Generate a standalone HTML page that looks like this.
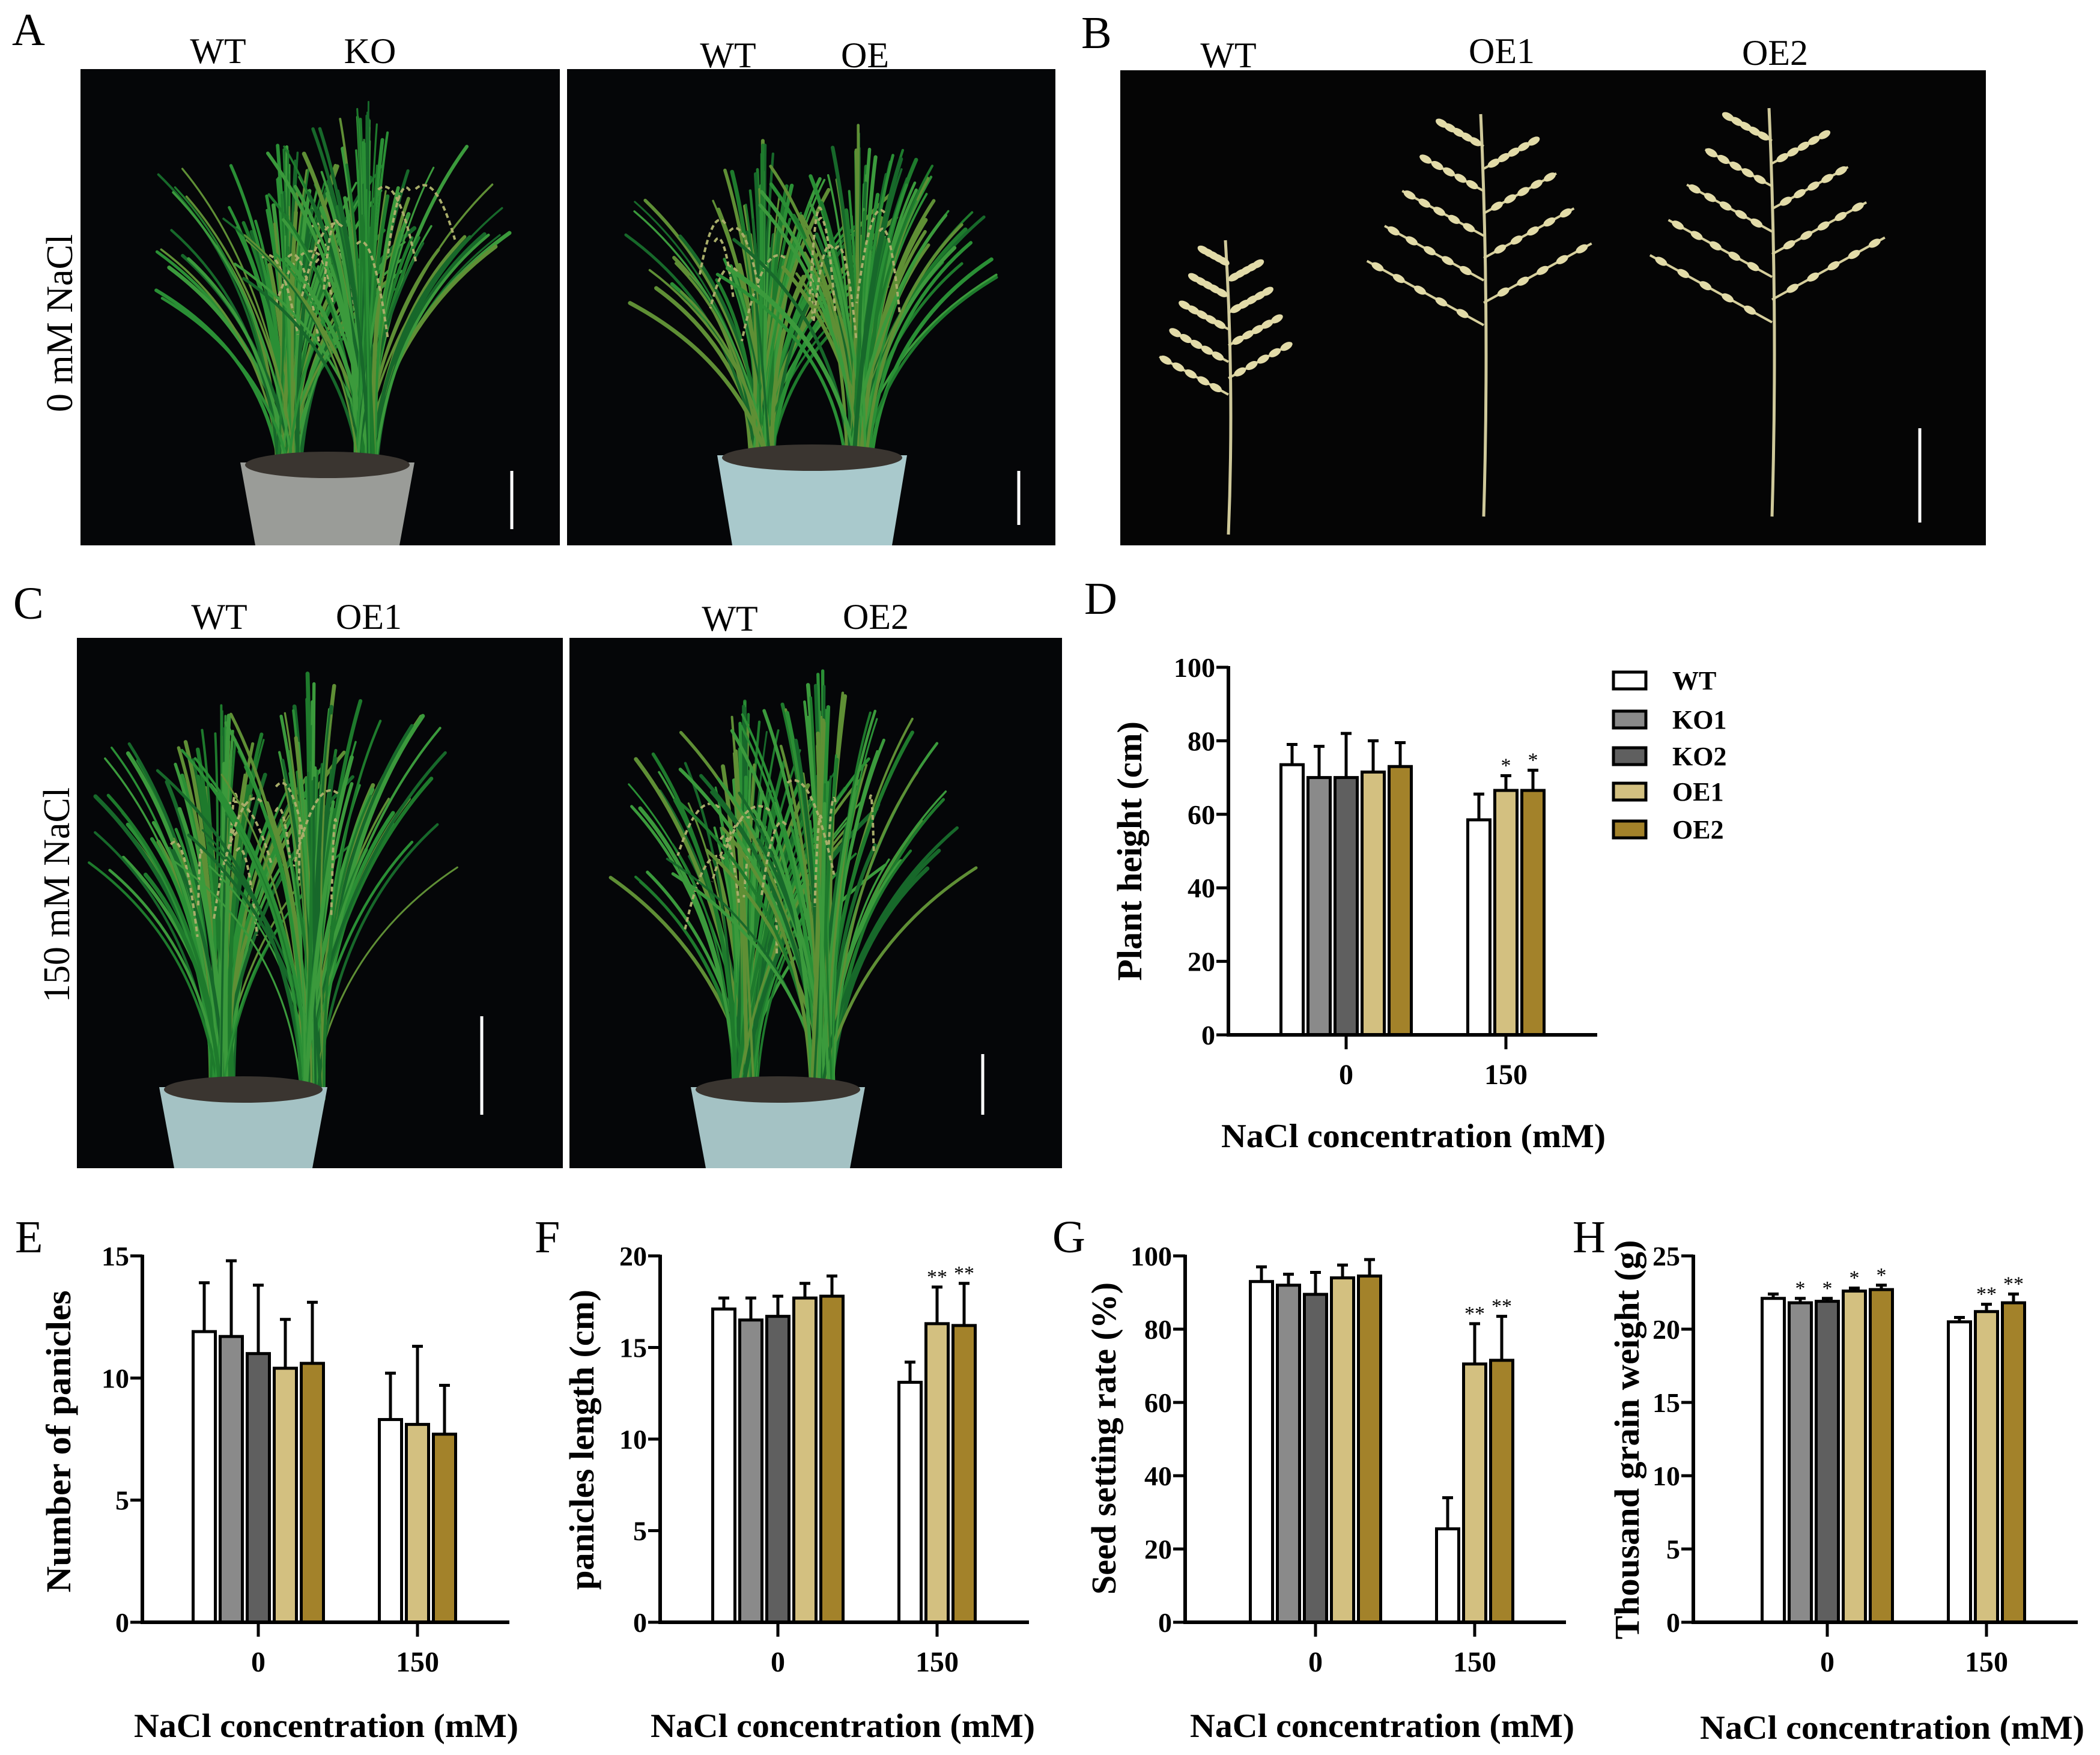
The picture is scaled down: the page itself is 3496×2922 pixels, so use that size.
<!DOCTYPE html>
<html><head><meta charset="utf-8">
<style>
html,body{margin:0;padding:0;background:#fff;}
svg{display:block;}
text{font-family:"Liberation Serif","DejaVu Serif",serif;}
</style></head>
<body>
<svg id="fig" xmlns="http://www.w3.org/2000/svg" width="3496" height="2922" viewBox="0 0 3496 2922">
<rect width="3496" height="2922" fill="#fff"/>
<g id="photos">
  <rect x="134" y="115" width="798" height="793" fill="#050608"/>
  <rect x="944" y="115" width="813" height="793" fill="#050608"/>
  <rect x="1865" y="117" width="1441" height="791" fill="#050505"/>
  <rect x="128" y="1062" width="809" height="883" fill="#050608"/>
  <rect x="948" y="1062" width="820" height="883" fill="#050608"/>
  <g id="plants"></g>
  <line x1="852" y1="784" x2="852" y2="881" stroke="#fff" stroke-width="5"/>
  <line x1="1696" y1="784" x2="1696" y2="874" stroke="#fff" stroke-width="5"/>
  <line x1="3196" y1="713" x2="3196" y2="870" stroke="#fff" stroke-width="5"/>
  <line x1="802" y1="1692" x2="802" y2="1856" stroke="#fff" stroke-width="5"/>
  <line x1="1636" y1="1755" x2="1636" y2="1856" stroke="#fff" stroke-width="5"/>
</g>
<g font-size="60" fill="#000">
  <text x="20" y="75" font-size="76">A</text>
  <text x="363" y="105" text-anchor="middle">WT</text>
  <text x="616" y="105" text-anchor="middle">KO</text>
  <text x="1212" y="112" text-anchor="middle">WT</text>
  <text x="1440" y="112" text-anchor="middle">OE</text>
  <text x="1800" y="80" font-size="76">B</text>
  <text x="2045" y="112" text-anchor="middle">WT</text>
  <text x="2500" y="105" text-anchor="middle">OE1</text>
  <text x="2955" y="108" text-anchor="middle">OE2</text>
  <text x="22" y="1030" font-size="76">C</text>
  <text x="365" y="1047" text-anchor="middle">WT</text>
  <text x="614" y="1047" text-anchor="middle">OE1</text>
  <text x="1215" y="1050" text-anchor="middle">WT</text>
  <text x="1458" y="1047" text-anchor="middle">OE2</text>
  <text transform="translate(120,538) rotate(-90)" text-anchor="middle" font-size="62">0 mM NaCl</text>
  <text transform="translate(115,1490) rotate(-90)" text-anchor="middle" font-size="62">150 mM NaCl</text>
  <text x="1805" y="1022" font-size="76">D</text>
  <text x="25" y="2085" font-size="76">E</text>
  <text x="890" y="2085" font-size="76">F</text>
  <text x="1752" y="2085" font-size="76">G</text>
  <text x="2618" y="2085" font-size="76">H</text>
</g>
<g id="charts"></g>
</svg>
<script>
// ---- chart data ----
const categories = ["0", "150"];
const genotypes = ["WT", "KO1", "KO2", "OE1", "OE2"];
const genoColors = ["#ffffff", "#8a8a8a", "#5f5f5f", "#d3c080", "#a3822a"];
const groupMembers0 = [0, 1, 2, 3, 4];
const groupMembers150 = [0, 3, 4];

const heightMean0 = [73.5, 70, 70, 71.5, 73];
const heightErr0 = [79, 78.5, 82, 80, 79.5];
const heightMean150 = [58.5, 66.5, 66.5];
const heightErr150 = [65.5, 70.5, 72];
const heightSig150 = ["", "*", "*"];
const heightTicks = [0, 20, 40, 60, 80, 100];

const panicleMean0 = [11.9, 11.7, 11.0, 10.4, 10.6];
const panicleErr0 = [13.9, 14.8, 13.8, 12.4, 13.1];
const panicleMean150 = [8.3, 8.1, 7.7];
const panicleErr150 = [10.2, 11.3, 9.7];
const panicleSig150 = ["", "", ""];
const panicleTicks = [0, 5, 10, 15];

const lengthMean0 = [17.1, 16.5, 16.7, 17.7, 17.8];
const lengthErr0 = [17.7, 17.7, 17.8, 18.5, 18.9];
const lengthMean150 = [13.1, 16.3, 16.2];
const lengthErr150 = [14.2, 18.3, 18.5];
const lengthSig150 = ["", "**", "**"];
const lengthTicks = [0, 5, 10, 15, 20];

const seedMean0 = [93, 92, 89.5, 94, 94.5];
const seedErr0 = [97, 95, 95.5, 97.5, 99];
const seedMean150 = [25.5, 70.5, 71.5];
const seedErr150 = [34, 81.5, 83.5];
const seedSig150 = ["", "**", "**"];
const seedTicks = [0, 20, 40, 60, 80, 100];

const tgwMean0 = [22.1, 21.8, 21.9, 22.6, 22.7];
const tgwErr0 = [22.4, 22.1, 22.1, 22.8, 23.0];
const tgwSig0 = ["", "*", "*", "*", "*"];
const tgwMean150 = [20.5, 21.2, 21.8];
const tgwErr150 = [20.8, 21.7, 22.4];
const tgwSig150 = ["", "**", "**"];
const tgwTicks = [0, 5, 10, 15, 20, 25];

const NS = "http://www.w3.org/2000/svg";
function mk(tag, attrs, parent) {
  const e = document.createElementNS(NS, tag);
  for (const k in attrs) e.setAttribute(k, attrs[k]);
  parent.appendChild(e);
  return e;
}

const panels = [
  {id:"d", ax:2045, xr:2659, y0:1723, yt:1111, c:[2241,2507], ticks:heightTicks,
   m0:heightMean0, e0:heightErr0, s0:["","","","",""], m1:heightMean150, e1:heightErr150, s1:heightSig150,
   ylab:"Plant height (cm)", ylx:1900, yly:1417, yll:432, xlx:2353, xly:1910},
  {id:"e", ax:237, xr:848, y0:2701, yt:2091, c:[430,695], ticks:panicleTicks,
   m0:panicleMean0, e0:panicleErr0, s0:["","","","",""], m1:panicleMean150, e1:panicleErr150, s1:panicleSig150,
   ylab:"Number of  panicles", ylx:117, yly:2400, yll:503, xlx:543, xly:2892},
  {id:"f", ax:1099, xr:1713, y0:2701, yt:2091, c:[1295,1560], ticks:lengthTicks,
   m0:lengthMean0, e0:lengthErr0, s0:["","","","",""], m1:lengthMean150, e1:lengthErr150, s1:lengthSig150,
   ylab:"panicles length (cm)", ylx:988, yly:2397, yll:500, xlx:1403, xly:2892},
  {id:"g", ax:1973, xr:2607, y0:2701, yt:2091, c:[2190,2455], ticks:seedTicks,
   m0:seedMean0, e0:seedErr0, s0:["","","","",""], m1:seedMean150, e1:seedErr150, s1:seedSig150,
   ylab:"Seed setting rate (%)", ylx:1857, yly:2395, yll:520, xlx:2301, xly:2892},
  {id:"h", ax:2819, xr:3459, y0:2701, yt:2091, c:[3042,3307], ticks:tgwTicks,
   m0:tgwMean0, e0:tgwErr0, s0:tgwSig0, m1:tgwMean150, e1:tgwErr150, s1:tgwSig150,
   ylab:"Thousand grain weight (g)", ylx:2728, yly:2397, yll:665, xlx:3150, xly:2895}
];

const charts = document.getElementById("charts");
const STEP = 45, BW = 37;
panels.forEach(p => {
  const g = mk("g", {}, charts);
  
  
  const maxV = p.ticks[p.ticks.length - 1];
  const yS = v => p.y0 - v / maxV * (p.y0 - p.yt);
  const drawGroup = (ci, members, means, errs, sigs) => {
    const n = members.length;
    const start = p.c[ci] - (n * STEP - (STEP - BW)) / 2;
    members.forEach((gi, k) => {
      const x = start + k * STEP;
      const yv = yS(means[k]), ye = yS(errs[k]);
      const cx = x + BW / 2;
      const eb = mk("line", {x1:cx, y1:yv, x2:cx, y2:ye, stroke:"#000", "stroke-width":5}, g);
      
      
      const cap = mk("line", {x1:cx - 9, y1:ye, x2:cx + 9, y2:ye, stroke:"#000", "stroke-width":5}, g);
      
      
      const r = mk("rect", {x:x, y:yv, width:BW, height:p.y0 - yv, fill:genoColors[gi], stroke:"#000", "stroke-width":5}, g);
      
      
      if (sigs[k]) {
        const s = mk("text", {x:cx, y:ye - 6, "text-anchor":"middle", "font-size":34, fill:"#000"}, g);
        s.textContent = sigs[k];
        
        
      }
    });
  };
  drawGroup(0, groupMembers0, p.m0, p.e0, p.s0);
  drawGroup(1, groupMembers150, p.m1, p.e1, p.s1);
  const ya = mk("line", {x1:p.ax, y1:p.yt - 2, x2:p.ax, y2:p.y0 + 3, stroke:"#000", "stroke-width":6}, g);
  
  
  const xa = mk("line", {x1:p.ax - 3, y1:p.y0, x2:p.xr, y2:p.y0, stroke:"#000", "stroke-width":6}, g);
  
  
  p.ticks.forEach(t => {
    const y = yS(t);
    const tl = mk("line", {x1:p.ax - 20, y1:y, x2:p.ax, y2:y, stroke:"#000", "stroke-width":5}, g);
    
    
    const tx = mk("text", {x:p.ax - 22, y:y + 16, "text-anchor":"end", "font-size":46, "font-weight":"bold", fill:"#000"}, g);
    tx.textContent = t;
    
    
  });
  categories.forEach((c, i) => {
    const xl = mk("line", {x1:p.c[i], y1:p.y0, x2:p.c[i], y2:p.y0 + 24, stroke:"#000", "stroke-width":5}, g);
    
    
    const tx = mk("text", {x:p.c[i], y:p.y0 + 82, "text-anchor":"middle", "font-size":48, "font-weight":"bold", fill:"#000"}, g);
    tx.textContent = c;
    
    
  });
  const yl = mk("text", {transform:"translate(" + p.ylx + "," + p.yly + ") rotate(-90)", "text-anchor":"middle", "font-size":58, "font-weight":"bold", textLength:p.yll, lengthAdjust:"spacingAndGlyphs", fill:"#000"}, g);
  yl.textContent = p.ylab;
  
  
  const xt = mk("text", {x:p.xlx, y:p.xly, "text-anchor":"middle", "font-size":56, "font-weight":"bold", textLength:640, lengthAdjust:"spacingAndGlyphs", fill:"#000"}, g);
  xt.textContent = "NaCl concentration (mM)";
  
  
});

const legYs = [1133, 1198, 1259, 1318, 1381];
const leg = mk("g", {}, charts);


genotypes.forEach((gname, i) => {
  const r = mk("rect", {x:2686, y:legYs[i] - 14, width:54, height:28, fill:genoColors[i], stroke:"#000", "stroke-width":5}, leg);
  
  
  const t = mk("text", {x:2784, y:legYs[i] + 15, "font-size":44, "font-weight":"bold", fill:"#000"}, leg);
  t.textContent = gname;
  
  
});

// ---- decorative photo content ----
let seed = 7;
function rnd() { seed = (seed * 16807) % 2147483647; return seed / 2147483647; }
const plantsG = document.getElementById("plants");
function pot(x1, x2, ytop, ybot, color, name) {
  const p = mk("path", {d:"M" + x1 + "," + ytop + " L" + x2 + "," + ytop + " L" + (x2 - 25) + "," + ybot + " L" + (x1 + 25) + "," + ybot + " Z", fill:color}, plantsG);
  
  
  mk("ellipse", {cx:(x1 + x2) / 2, cy:ytop + 4, rx:(x2 - x1) / 2 - 8, ry:22, fill:"#3a3530"}, plantsG);
}
function plant(bx, by, top, spread, n, clipTop) {
  for (let i = 0; i < n; i++) {
    const u = (rnd() - 0.5) * 2;
    const ex = bx + u * Math.abs(u) * spread;
    const ey = top + rnd() * (by - top) * 0.35 + Math.abs(u) * (by - top) * 0.15;
    const cx = bx + (ex - bx) * 0.15;
    const cy = by - (by - ey) * 0.65;
    const shade = ["#1e7a2c", "#2a8f35", "#17682a", "#3b9a3c", "#5f8f35"][Math.floor(rnd() * 5)];
    mk("path", {d:"M" + (bx + (rnd() - 0.5) * 40) + "," + by + " Q" + cx + "," + cy + " " + ex + "," + Math.max(ey, clipTop), fill:"none", stroke:shade, "stroke-width":3 + rnd() * 4, "stroke-linecap":"round"}, plantsG);
  }
  // drooping panicle strands
  for (let i = 0; i < 6; i++) {
    const sx = bx + (rnd() - 0.5) * spread * 0.8, sy = top + (by - top) * (0.25 + rnd() * 0.15);
    const dx = (rnd() - 0.5) * 160;
    mk("path", {d:"M" + sx + "," + sy + " q" + dx * 0.5 + ",-30 " + dx + "," + (60 + rnd() * 100), fill:"none", stroke:"#a9ad6a", "stroke-width":4, "stroke-dasharray":"8 5"}, plantsG);
  }
}
// A
plant(480, 800, 200, 220, 90, 125); plant(610, 800, 150, 240, 90, 125);
pot(400, 690, 770, 908, "#9a9c98", "pot-a-left");
plant(1270, 790, 230, 230, 90, 125); plant(1430, 790, 200, 240, 90, 125);
pot(1194, 1510, 758, 908, "#a9c9cc", "pot-a-right");
// C
plant(370, 1830, 1150, 230, 90, 1070); plant(520, 1830, 1100, 260, 90, 1070);
pot(265, 545, 1810, 1945, "#a4c2c4", "pot-c-left");
plant(1240, 1840, 1160, 240, 90, 1070); plant(1370, 1840, 1100, 260, 90, 1070);
pot(1150, 1440, 1810, 1945, "#a4c2c4", "pot-c-right");
// B panicles
function panicle(bx, by, top, width) {
  mk("path", {d:"M" + bx + "," + by + " Q" + (bx + 10) + "," + ((by + top) / 2) + " " + (bx - 5) + "," + top, fill:"none", stroke:"#cfc99a", "stroke-width":5}, plantsG);
  const nb = 9;
  for (let i = 0; i < nb; i++) {
    const y = top + (by - top) * 0.08 + i * (by - top) * 0.5 / nb;
    const side = i % 2 ? 1 : -1;
    const len = width * (0.35 + 0.6 * (i / nb));
    const ex = bx + side * len, ey = y - len * 0.55;
    mk("line", {x1:bx, y1:y, x2:ex, y2:ey, stroke:"#d6cf9c", "stroke-width":4}, plantsG);
    for (let j = 1; j <= 5; j++) {
      const t = j / 5.5;
      mk("ellipse", {cx:bx + (ex - bx) * t, cy:y + (ey - y) * t, rx:11, ry:6, fill:"#e2dba8", transform:"rotate(" + (side * -30) + " " + (bx + (ex - bx) * t) + " " + (y + (ey - y) * t) + ")"}, plantsG);
    }
  }
}
panicle(2045, 890, 400, 130);
panicle(2470, 860, 190, 220);
panicle(2950, 860, 180, 230);
</script>
</body></html>
